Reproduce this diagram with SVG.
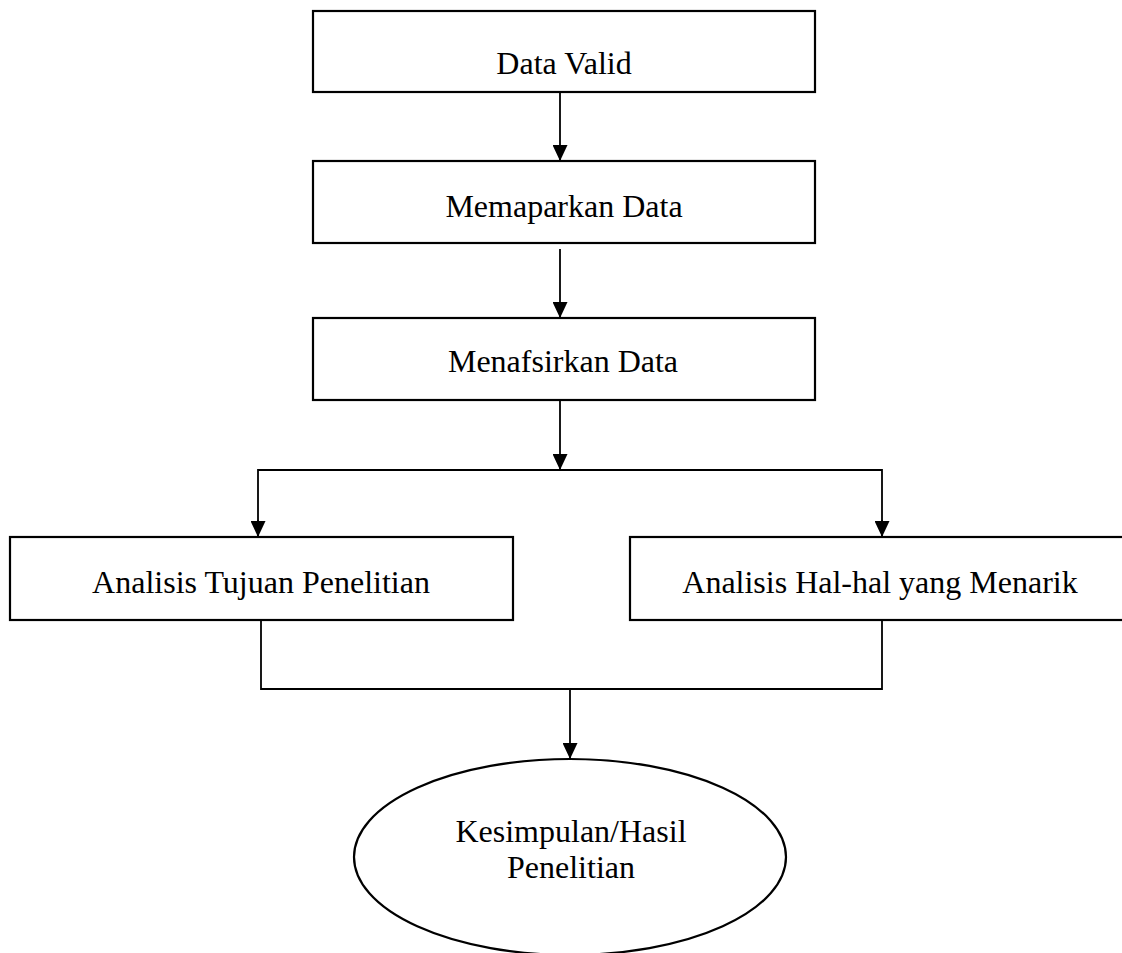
<svg xmlns="http://www.w3.org/2000/svg" width="1122" height="953" viewBox="0 0 1122 953">
<style>
  .box { fill: #ffffff; stroke: #000000; stroke-width: 2.2; }
  .lbl { font-family: "Liberation Serif", "Times New Roman", serif; font-size: 32px; fill: #000000; text-anchor: middle; }
  .con { fill: none; stroke: #000000; stroke-width: 1.8; }
</style>
<defs>
  <marker id="arr" viewBox="0 0 16 15" refX="16" refY="7.5" markerWidth="16" markerHeight="15" markerUnits="userSpaceOnUse" orient="auto">
    <path d="M0,0 L16,7.5 L0,15 Z" fill="#000000"/>
  </marker>
</defs>
<rect width="1122" height="953" fill="#ffffff"/>
<g id="connectors">
  <line class="con" x1="560" y1="92" x2="560" y2="161" marker-end="url(#arr)"/>
  <line class="con" x1="560" y1="249" x2="560" y2="318" marker-end="url(#arr)"/>
  <line class="con" x1="560" y1="400" x2="560" y2="470" marker-end="url(#arr)"/>
  <polyline class="con" points="258,537 258,470 882,470 882,537"/>
  <line class="con" x1="258" y1="520" x2="258" y2="537" marker-end="url(#arr)"/>
  <line class="con" x1="882" y1="520" x2="882" y2="537" marker-end="url(#arr)"/>
  <polyline class="con" points="261,620 261,689 882,689 882,620"/>
  <line class="con" x1="570" y1="689" x2="570" y2="759" marker-end="url(#arr)"/>
</g>
<g id="node-data-valid">
  <rect class="box" x="313" y="11" width="502" height="81"/>
  <text class="lbl" x="564" y="74">Data Valid</text>
</g>
<g id="node-memaparkan">
  <rect class="box" x="313" y="161" width="502" height="82"/>
  <text class="lbl" x="564" y="217">Memaparkan Data</text>
</g>
<g id="node-menafsirkan">
  <rect class="box" x="313" y="318" width="502" height="82"/>
  <text class="lbl" x="563" y="372">Menafsirkan Data</text>
</g>
<g id="node-analisis-tujuan">
  <rect class="box" x="10" y="537" width="503" height="83"/>
  <text class="lbl" x="261" y="593">Analisis Tujuan Penelitian</text>
</g>
<g id="node-analisis-hal">
  <rect class="box" x="630" y="537" width="504" height="83"/>
  <text class="lbl" x="880" y="593">Analisis Hal-hal yang Menarik</text>
</g>
<g id="node-kesimpulan">
  <ellipse class="box" cx="570" cy="857" rx="216" ry="98"/>
  <text class="lbl" x="571" y="842">Kesimpulan/Hasil</text>
  <text class="lbl" x="571" y="878">Penelitian</text>
</g>
</svg>
